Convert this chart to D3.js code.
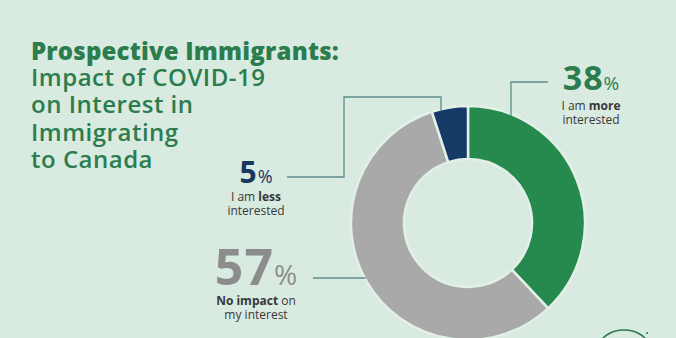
<!DOCTYPE html>
<html><head><meta charset="utf-8">
<script src="https://cdn.jsdelivr.net/npm/d3@7"></script>
<style>
html,body{margin:0;padding:0;background:#d9eae1;}
svg{display:block;}
text{white-space:pre;}
</style></head>
<body>
<svg id="c" width="676" height="338"></svg>
<script>
// ---- data ----
const categories = ["I am more interested", "No impact on my interest", "I am less interested"];
const values = [38, 57, 5];
const sliceColors = ["#268a4e", "#a9a9a9", "#153a66"];
const titleBold = "Prospective Immigrants:";
const titleLines = ["Impact of COVID-19", "on Interest in", "Immigrating", "to Canada"];

const svg = d3.select("#c");
const W = 676, H = 338;
svg.append("rect").attr("width", W).attr("height", H).attr("fill", "#d9eae1");

const font = "'Open Sans', 'DejaVu Sans', sans-serif";
const green = "#2b7d4e";

// title (separate lines)
svg.append("text").attr("x", 31).attr("y", 60)
  .attr("font-family", font).attr("fill", green).attr("font-size", 24)
  .attr("font-weight", 800).attr("letter-spacing", 0.2).text(titleBold);
titleLines.forEach((t, i) => {
  svg.append("text").attr("x", 31).attr("y", 86 + i * 27.3)
    .attr("font-family", font).attr("fill", green).attr("font-size", 24)
    .attr("font-weight", 600).attr("letter-spacing", 0.5).text(t);
});

// donut
const cx = 468, cy = 223, R = 117, r = 64;
const pie = d3.pie().sort(null).value(d => d)(values);
const arc = d3.arc().innerRadius(r).outerRadius(R);
const g = svg.append("g").attr("transform", `translate(${cx},${cy})`);
g.selectAll("path").data(pie).join("path")
  .attr("d", arc)
  .attr("fill", (d, i) => sliceColors[i])
  .attr("stroke", "#e3f0e8").attr("stroke-width", 2.5);

const topY = x => cy - Math.sqrt(R * R - (x - cx) * (x - cx));

const lineColor = "#5d8c8a";
const lines = svg.append("g").attr("fill", "none").attr("stroke", lineColor).attr("stroke-width", 1.3);
lines.append("path").attr("d", `M548,82 H511 V${topY(511) + 2}`);
lines.append("path").attr("d", `M287,177 H344 V97 H441 V${topY(441) + 2}`);
lines.append("path").attr("d", `M313,278 H${cx - Math.sqrt(R * R - (278 - cy) * (278 - cy)) + 1}`);

// centered line built from tspans of one text element
function row(x, y, segs) {
  const t = svg.append("text").attr("x", x).attr("y", y).attr("text-anchor", "middle")
    .attr("font-family", font);
  segs.forEach(s => {
    t.append("tspan").attr("font-size", s.size).attr("font-weight", s.w).attr("fill", s.c)
      .attr("letter-spacing", s.ls || 0).text(s.t);
  });
}
const sub = "#383838";
function label(x, y, val, size, pct, color, l1, l3, cap, fs) {
  row(x, y, [{t: String(val), size, w: 700, c: color, ls: 1},
             {t: "%", size: pct, w: 500, c: color}]);
  row(x, y + cap, l1.map(s => ({t: s.t, size: fs, w: s.b ? 700 : 400, c: sub})));
  row(x, y + cap + 14, [{t: l3, size: fs, w: 400, c: sub}]);
}
label(591, 90, values[0], 34, 19, green, [{t: "I am "}, {t: "more", b: true}], "interested", 20, 12);
label(256, 183, values[2], 30, 18, "#17375e", [{t: "I am "}, {t: "less", b: true}], "interested", 18, 12);
label(256, 285, values[1], 50, 28, "#8c8c8c", [{t: "No impact", b: true}, {t: " on"}], "my interest", 20, 12);

// logo fragment bottom right
svg.append("ellipse").attr("cx", 624).attr("cy", 348).attr("rx", 25).attr("ry", 18)
  .attr("fill", "none").attr("stroke", "#2b7d4e").attr("stroke-width", 1.6);
svg.append("circle").attr("cx", 647).attr("cy", 333).attr("r", 1).attr("fill", "#2b7d4e");
</script>
</body></html>
